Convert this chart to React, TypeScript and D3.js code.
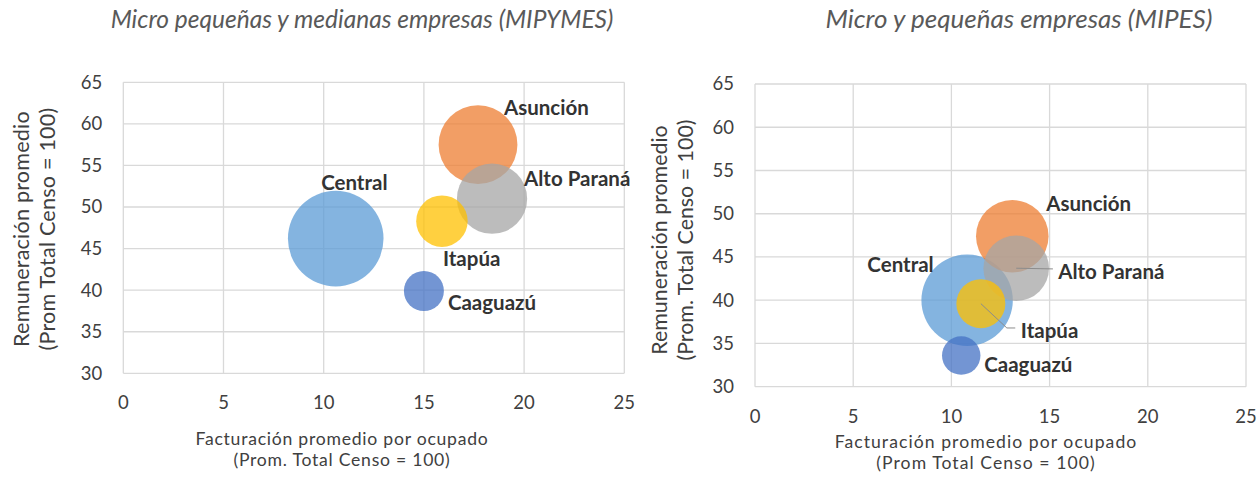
import * as React from "react";
import * as d3 from "d3";

// regiones (mismo orden en ambos gráficos)
const regions = ["Central", "Asunción", "Alto Paraná", "Itapúa", "Caaguazú"];
const colors = ["#5B9BD5", "#ED7D31", "#A5A5A5", "#FFC000", "#4472C4"];

// MIPYMES
const mipymesTitle = "Micro pequeñas y medianas empresas (MIPYMES)";
const mipymesFact = [10.6, 17.7, 18.4, 15.9, 15.0];
const mipymesRem = [46.2, 57.5, 51.0, 48.3, 39.9];
const mipymesSize = [100, 68, 54, 29, 17.5];

// MIPES
const mipesTitle = "Micro y pequeñas empresas (MIPES)";
const mipesFact = [10.8, 13.1, 13.3, 11.5, 10.5];
const mipesRem = [40.0, 47.4, 43.7, 39.6, 33.6];
const mipesSize = [100, 63, 51.5, 28.7, 17.7];

const xTicks = [0, 5, 10, 15, 20, 25];
const yTicks = [30, 35, 40, 45, 50, 55, 60, 65];

const FONT = "Lato, 'Open Sans', sans-serif";

const panels = [
  {
    title: mipymesTitle,
    fact: mipymesFact,
    rem: mipymesRem,
    size: mipymesSize,
    xTitle: ["Facturación promedio por ocupado", "(Prom. Total Censo = 100)"],
    yTitle: ["Remuneración promedio", "(Prom Total Censo = 100)"],
    plot: { left: 123.3, right: 624.3, top: 82.3, bottom: 373.3 },
    rMax: 47.8,
    titleX: 362, titleY: 28, titleSize: 24.5,
    xTickY: 408.5,
    xTitleX: 342, xTitleY: [445, 466], xTitleSize: 17.6, xTitleSpacing: 0.75,
    yTitleX: [28.5, 54.5], yTitleY: 229, yTitleSize: 21.6, yTitleSpacing: 0.2,
    // desplazamiento de etiquetas respecto al centro de la burbuja
    labels: [
      { dx: 18.6, dy: -49, anchor: "middle" },
      { dx: 26, dy: -30, anchor: "start" },
      { dx: 32, dy: -12.5, anchor: "start" },
      { dx: 1, dy: 45, anchor: "start" },
      { dx: 24, dy: 19, anchor: "start" },
    ],
    leaders: [],
  },
  {
    title: mipesTitle,
    fact: mipesFact,
    rem: mipesRem,
    size: mipesSize,
    xTitle: ["Facturación promedio por ocupado", "(Prom Total Censo = 100)"],
    yTitle: ["Remuneración promedio", "(Prom. Total Censo = 100)"],
    plot: { left: 755, right: 1246, top: 84, bottom: 386.7 },
    rMax: 45.7,
    titleX: 1019, titleY: 28, titleSize: 26,
    xTickY: 422.5,
    xTitleX: 986, xTitleY: [448, 469], xTitleSize: 17.6, xTitleSpacing: 1.05,
    yTitleX: [666.5, 692.5], yTitleY: 240, yTitleSize: 21.4, yTitleSpacing: 0,
    labels: [
      { dx: -33.4, dy: -28, anchor: "end" },
      { dx: 34, dy: -25.5, anchor: "start" },
      { dx: 42, dy: 10.5, anchor: "start" },
      { dx: 40, dy: 34, anchor: "start" },
      { dx: 23, dy: 16.3, anchor: "start" },
    ],
    leaders: [
      { i: 2, pts: [[0, 0], [36.7, 0.7]] },
      { i: 3, pts: [[0, 0], [26, 24.3], [34.4, 24.3]] },
    ],
  },
];

function drawPanel(svg, p) {
  const g = svg.append("g");
  const x = d3.scaleLinear().domain([0, 25]).range([p.plot.left, p.plot.right]);
  const y = d3.scaleLinear().domain([30, 65]).range([p.plot.bottom, p.plot.top]);
  const r = d3.scaleSqrt().domain([0, d3.max(p.size)]).range([0, p.rMax]);

  // grid
  g.selectAll(".vgrid").data(xTicks).enter().append("line")
    .attr("x1", d => x(d)).attr("x2", d => x(d))
    .attr("y1", p.plot.top).attr("y2", p.plot.bottom)
    .attr("stroke", "#d9d9d9").attr("stroke-width", 1.3);
  g.selectAll(".hgrid").data(yTicks).enter().append("line")
    .attr("x1", p.plot.left).attr("x2", p.plot.right)
    .attr("y1", d => y(d)).attr("y2", d => y(d))
    .attr("stroke", "#d9d9d9").attr("stroke-width", 1.3);

  // ticks
  g.selectAll(".xt").data(xTicks).enter().append("text")
    .text(d => d)
    .attr("x", d => x(d)).attr("y", p.xTickY)
    .attr("text-anchor", "middle")
    .attr("font-size", 18.5).attr("fill", "#404040");
  g.selectAll(".yt").data(yTicks).enter().append("text")
    .text(d => d)
    .attr("x", p.plot.left - 21).attr("y", d => y(d))
    .attr("dy", "0.35em")
    .attr("text-anchor", "end")
    .attr("font-size", 18.5).attr("fill", "#404040");

  // títulos
  g.append("text").text(p.title)
    .attr("x", p.titleX).attr("y", p.titleY)
    .attr("text-anchor", "middle").attr("font-style", "italic")
    .attr("font-size", p.titleSize).attr("fill", "#595959");
  g.selectAll(".xtitle").data(p.xTitle).enter().append("text")
    .text(d => d)
    .attr("x", p.xTitleX).attr("y", (d, i) => p.xTitleY[i])
    .attr("text-anchor", "middle")
    .attr("letter-spacing", p.xTitleSpacing)
    .attr("font-size", p.xTitleSize).attr("fill", "#404040");
  g.selectAll(".ytitle").data(p.yTitle).enter().append("text")
    .text(d => d)
    .attr("transform", (d, i) => `translate(${p.yTitleX[i]},${p.yTitleY}) rotate(-90)`)
    .attr("text-anchor", "middle")
    .attr("letter-spacing", p.yTitleSpacing)
    .attr("font-size", p.yTitleSize).attr("fill", "#404040");

  const idx = d3.range(regions.length);

  // burbujas
  g.selectAll(".bubble").data(idx).enter().append("circle")
    .attr("cx", i => x(p.fact[i])).attr("cy", i => y(p.rem[i]))
    .attr("r", i => r(p.size[i]))
    .attr("fill", i => colors[i]).attr("fill-opacity", 0.75);

  // líneas guía
  g.selectAll(".leader").data(p.leaders).enter().append("path")
    .attr("d", l => d3.line()(l.pts.map(([dx, dy]) => [x(p.fact[l.i]) + dx, y(p.rem[l.i]) + dy])))
    .attr("fill", "none").attr("stroke", "#8c8c8c").attr("stroke-width", 1);

  // etiquetas
  g.selectAll(".label").data(idx).enter().append("text")
    .text(i => regions[i])
    .attr("x", i => x(p.fact[i]) + p.labels[i].dx)
    .attr("y", i => y(p.rem[i]) + p.labels[i].dy)
    .attr("text-anchor", i => p.labels[i].anchor)
    .attr("font-weight", "bold").attr("font-size", 20.5).attr("fill", "#333333");
}

function drawChart(svgRef) {
  const svg = d3.select(svgRef.current);
  svg.selectAll("*").remove();
  svg.attr("font-family", FONT);
  panels.forEach(p => drawPanel(svg, p));
}

export default function App() {
  const svgRef = React.useRef(null);

  React.useEffect(() => {
    drawChart(svgRef);
  }, [svgRef]);

  return (
    <div style={{ position: "absolute", left: 0, top: 0 }}>
      <svg ref={svgRef} width={1258} height={481} style={{ display: "block", background: "#fff" }} />
    </div>
  );
}
